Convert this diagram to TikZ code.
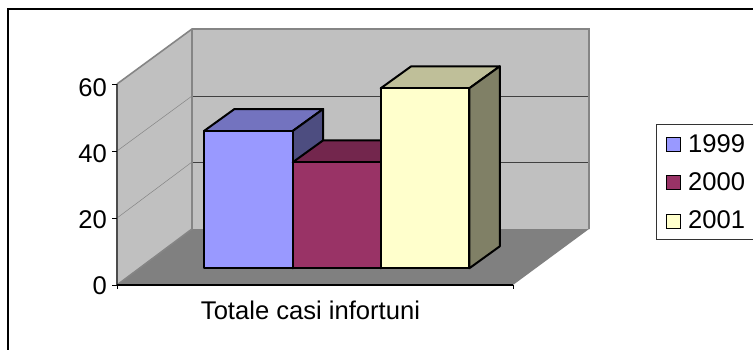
\documentclass[tikz,border=0pt]{standalone}
\usepackage{fontspec}
\setmainfont{Liberation Sans}
\begin{document}
\begin{tikzpicture}[x=1pt,y=-1pt,
  lbl/.style={font=\fontsize{25.6}{26}\selectfont, inner sep=0pt},
  edge/.style={draw=edgegray, line width=1.6pt},
  grid3d/.style={draw=edgegray, line width=0.5pt},
  gridback/.style={draw=black!75, line width=0.9pt},
  barface/.style={draw=black, line width=2pt, line join=round},
  swatch/.style={draw=black, line width=1.3pt, minimum width=14pt, minimum height=14pt, inner sep=0pt}
]
\definecolor{wallgray}{HTML}{C0C0C0}
\definecolor{floorgray}{HTML}{808080}
\definecolor{edgegray}{HTML}{858585}
\definecolor{ca}{HTML}{9999FF}
\definecolor{cat}{HTML}{7373BF}
\definecolor{cas}{HTML}{4D4D80}
\definecolor{cb}{HTML}{993366}
\definecolor{cbt}{HTML}{73264D}
\definecolor{cbs}{HTML}{4D1A33}
\definecolor{cc}{HTML}{FFFFCC}
\definecolor{cct}{HTML}{BFBF99}
\definecolor{ccs}{HTML}{808066}
\useasboundingbox (0,0) rectangle (753,349);
\fill[white] (0,0) rectangle (753,349);
% outer frame
\draw[line width=1.6pt] (8,360) -- (8,9) -- (760,9);
% walls
\coordinate (fl) at (117,285);
\coordinate (fr) at (513,285);
\coordinate (bl) at (192,229);
\coordinate (br) at (589,229);
\coordinate (tl) at (117,84);
\coordinate (btl) at (192,29);
\coordinate (btr) at (589,29);
\fill[wallgray] (fl) -- (tl) -- (btl) -- (bl) -- cycle;
\fill[wallgray] (bl) -- (btl) -- (btr) -- (br) -- cycle;
\fill[floorgray] (fl) -- (fr) -- (br) -- (bl) -- cycle;
% gridlines
\coordinate (g1l) at (117,218); \coordinate (g1b) at (192,162); \coordinate (g1r) at (589,162);
\coordinate (g2l) at (117,151); \coordinate (g2b) at (192,96); \coordinate (g2r) at (589,96);
\draw[grid3d] (g1l) -- (g1b);
\draw[grid3d] (g2l) -- (g2b);
\draw[gridback] (g1b) -- (g1r);
\draw[gridback] (g2b) -- (g2r);
% wall edges
\draw[edge] (tl) -- (btl) -- (btr) -- (br);
\draw[edge] (btl) -- (bl) -- (fl);
% axes
\draw[draw=black!70, line width=1.2pt] (fl) -- (tl);
\draw[line width=1.2pt] (fl) -- (fr);
\foreach \yy in {84,151,218,285} { \draw[line width=0.8pt] (112,\yy) -- (117,\yy); }
\draw[line width=0.8pt] (117,285) -- (117,289);
\draw[line width=0.8pt] (fr) -- ++(0,4);
% bars
% 1999
\filldraw[barface, fill=cat] (204,131) -- (292.7,131) -- (323.2,109) -- (234.5,109) -- cycle;
\filldraw[barface, fill=cas] (292.7,131) -- (323.2,109) -- (323.2,246.3) -- (292.7,268.3) -- cycle;
\filldraw[barface, fill=ca] (204,131) rectangle (292.7,268.3);
% 2000
\filldraw[barface, fill=cbt] (292.7,162.3) -- (380.7,162.3) -- (411.2,140.3) -- (323.2,140.3) -- cycle;
\filldraw[barface, fill=cbs] (380.7,162.3) -- (411.2,140.3) -- (411.2,246.3) -- (380.7,268.3) -- cycle;
\filldraw[barface, fill=cb] (292.7,162.3) rectangle (380.7,268.3);
% 2001
\filldraw[barface, fill=cct] (380.7,88.3) -- (469.3,88.3) -- (499.8,66.3) -- (411.2,66.3) -- cycle;
\filldraw[barface, fill=ccs] (469.3,88.3) -- (499.8,66.3) -- (499.8,246.3) -- (469.3,268.3) -- cycle;
\filldraw[barface, fill=cc] (380.7,88.3) rectangle (469.3,268.3);
% axis labels
\node[lbl, anchor=base east] (y60) at (107,96.5) {60};
\node[lbl, anchor=base east] (y40) at (107,162.5) {40};
\node[lbl, anchor=base east] (y20) at (107,228.5) {20};
\node[lbl, anchor=base east] (y0) at (107,294) {0};
\node[lbl, anchor=base] (xl) at (310.5,319) {Totale casi infortuni};
% legend
\draw[draw=black!80, line width=0.8pt] (770,124.3) -- (656.7,124.3) -- (656.7,239.3) -- (770,239.3);
\node[swatch, fill=ca, anchor=north west] (s1) at (666,136.5) {};
\node[swatch, fill=cb, anchor=north west] (s2) at (666,175) {};
\node[swatch, fill=cc, anchor=north west] (s3) at (666,213.5) {};
\node[lbl, anchor=base west] (l1) at (688,152.3) {1999};
\node[lbl, anchor=base west] (l2) at (688,190.7) {2000};
\node[lbl, anchor=base west] (l3) at (688,228.5) {2001};
\end{tikzpicture}
\end{document}
